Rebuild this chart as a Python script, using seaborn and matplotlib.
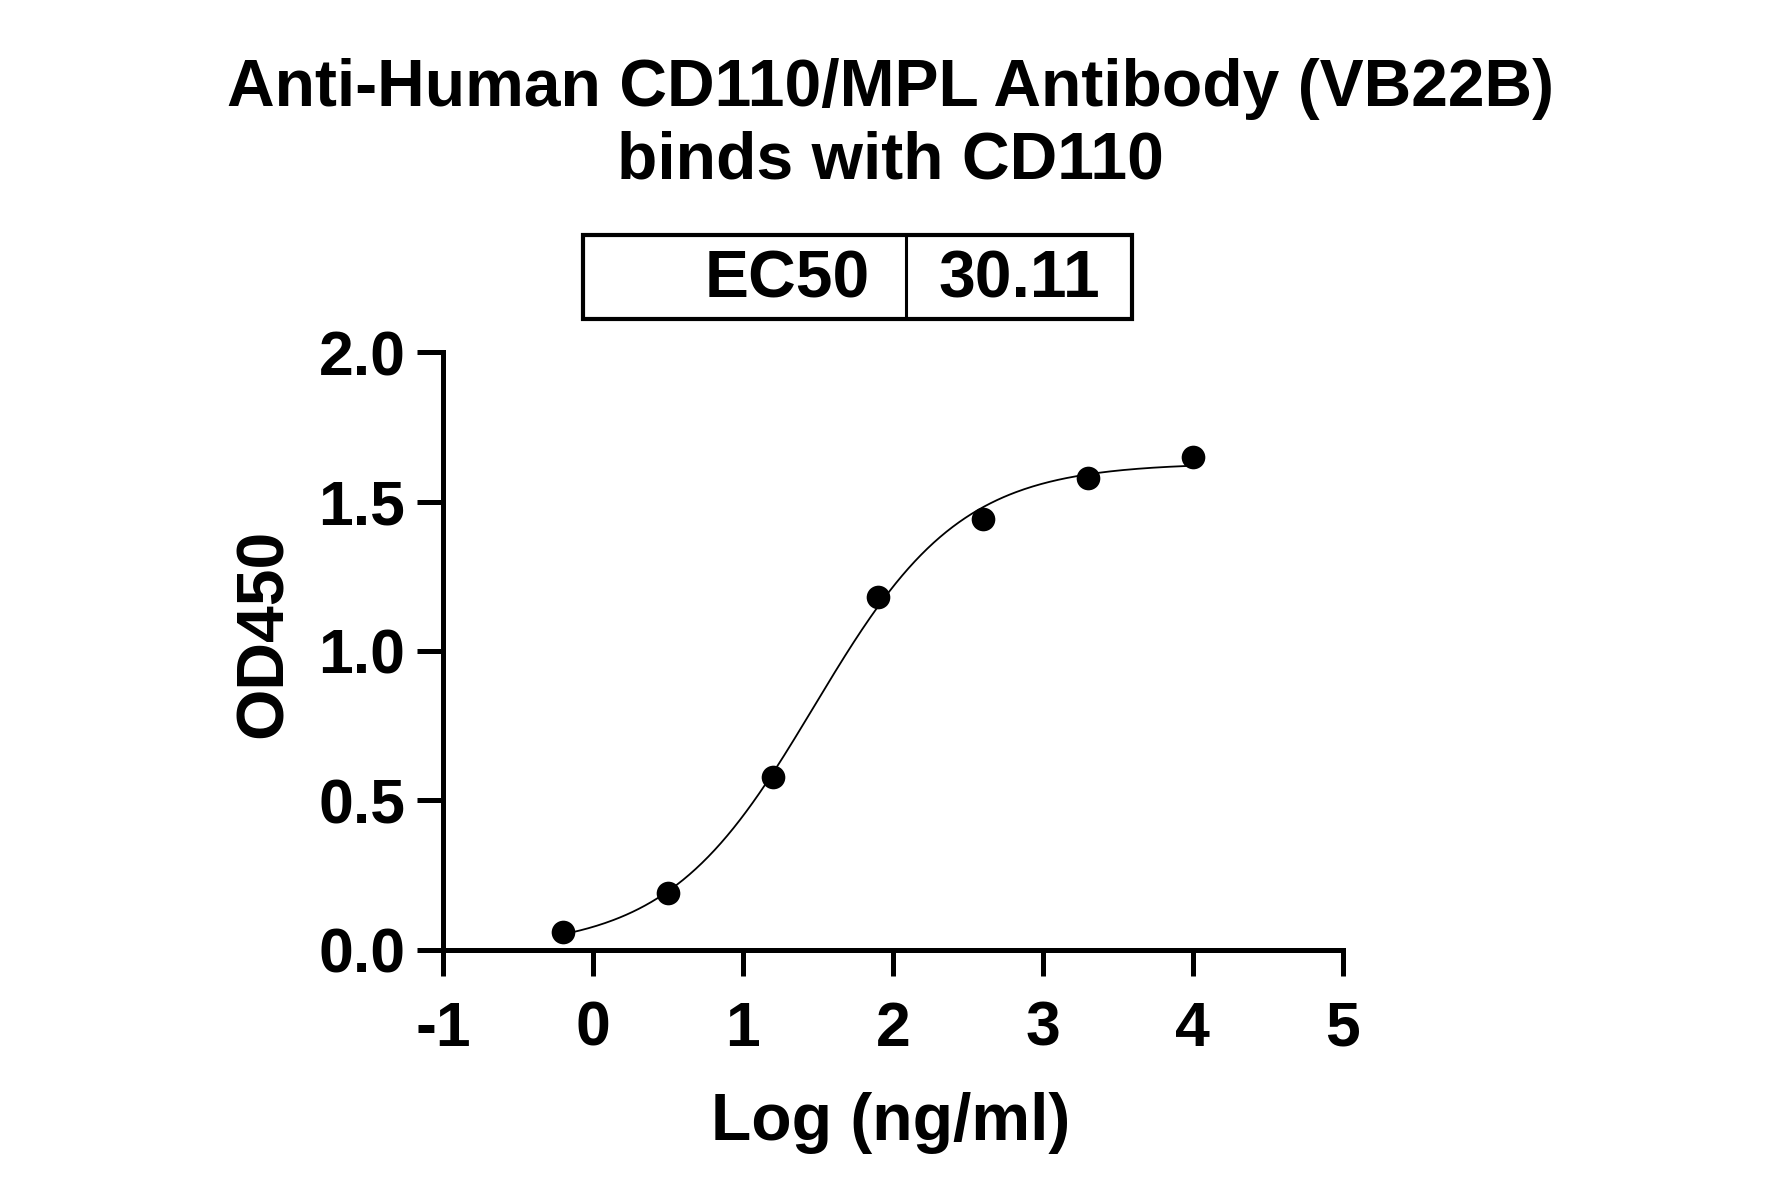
import numpy as np
import pandas as pd
import matplotlib
matplotlib.use("Agg")
import matplotlib.pyplot as plt
import seaborn as sns
from matplotlib.patches import Rectangle
from matplotlib.lines import Line2D

# measured points (log concentration, OD450)
log_conc = [-0.2, 0.5, 1.2, 1.9, 2.6, 3.3, 4.0]
od450 = [0.06, 0.19, 0.58, 1.18, 1.44, 1.58, 1.65]

ec50 = 30.11
title = "Anti-Human CD110/MPL Antibody (VB22B)\nbinds with CD110"
x_ticks = [-1, 0, 1, 2, 3, 4, 5]
y_ticks = [0.0, 0.5, 1.0, 1.5, 2.0]


def four_pl(x, p):
    bottom, top, logec, hill = p
    return bottom + (top - bottom) / (1 + 10 ** ((logec - x) * hill))


def fit_4pl(x, y):
    # small Levenberg-Marquardt, enough for 7 points
    x = np.asarray(x, float)
    y = np.asarray(y, float)
    p = np.array([y.min(), y.max(), np.log10(ec50), 1.0])
    lam = 1e-3
    for _ in range(500):
        r = y - four_pl(x, p)
        J = np.empty((len(x), 4))
        for i in range(4):
            dp = np.zeros(4)
            dp[i] = 1e-6
            J[:, i] = (four_pl(x, p + dp) - four_pl(x, p - dp)) / 2e-6
        A = J.T @ J
        step = np.linalg.solve(A + lam * np.diag(np.diag(A)), J.T @ r)
        new = p + step
        if np.sum((y - four_pl(x, new)) ** 2) < np.sum(r ** 2):
            p, lam = new, lam * 0.3
        else:
            lam *= 10
    return p


params = fit_4pl(log_conc, od450)

sns.set_style("ticks")
plt.rcParams['font.family'] = ['Liberation Sans', 'DejaVu Sans']
plt.rcParams['font.weight'] = 'bold'
plt.rcParams['axes.unicode_minus'] = False
for key in ['text.color', 'axes.labelcolor', 'xtick.color', 'ytick.color', 'axes.edgecolor']:
    plt.rcParams[key] = 'black'

df = pd.DataFrame({"logc": log_conc, "od": od450})
xs = np.linspace(min(log_conc), max(log_conc), 300)
fit = pd.DataFrame({"logc": xs, "od": four_pl(xs, params)})

fig = plt.figure(figsize=(17.81, 11.97), dpi=100)
ax = fig.add_axes([0.2487, 0.2064, 0.5053, 0.4995])

sns.lineplot(data=fit, x="logc", y="od", ax=ax, color="black", linewidth=1.3)
sns.scatterplot(data=df, x="logc", y="od", ax=ax, color="black", s=290,
                edgecolor="black", linewidth=0, zorder=3)

ax.set_xlim(-1, 5)
ax.set_ylim(0, 2)
ax.set_xticks(x_ticks)
ax.set_xticklabels([str(t) for t in x_ticks])
ax.set_yticks(y_ticks)
ax.set_yticklabels([f"{t:.1f}" for t in y_ticks])
ax.tick_params(axis="both", labelsize=45, width=3.6, length=19, color="black")
ax.tick_params(axis="x", pad=17)
ax.tick_params(axis="y", pad=8)
for lab in ax.get_xticklabels() + ax.get_yticklabels():
    lab.set_fontweight("bold")

for side in ["top", "right"]:
    ax.spines[side].set_visible(False)
for side in ["left", "bottom"]:
    ax.spines[side].set_linewidth(3.6)
    ax.spines[side].set_color("black")

ax.set_xlabel("Log (ng/ml)", fontsize=47.5, fontweight="bold")
ax.set_ylabel("OD450", fontsize=47.5, fontweight="bold")
ax.xaxis.set_label_coords(0.497, -0.237)
ax.yaxis.set_label_coords(-0.163, 0.53)

fig.text(0.5, 0.895, title, ha="center", va="center", fontsize=47.5,
         fontweight="bold", linespacing=1.22)

# EC50 box
bx0, bx1, by0, by1, bdiv = 0.3273, 0.6356, 0.7335, 0.8037, 0.5087
fig.patches.append(Rectangle((bx0, by0), bx1 - bx0, by1 - by0, transform=fig.transFigure,
                             fill=False, edgecolor="black", linewidth=3))
fig.lines.append(Line2D([bdiv, bdiv], [by0, by1], transform=fig.transFigure,
                        color="black", linewidth=2.2))
fig.text(0.4885, 0.766, "EC50", ha="right", va="center", fontsize=47.5, fontweight="bold")
fig.text(0.5725, 0.766, f"{ec50:.2f}", ha="center", va="center", fontsize=47.5, fontweight="bold")

fig.savefig("out.png", dpi=100, facecolor="white")
